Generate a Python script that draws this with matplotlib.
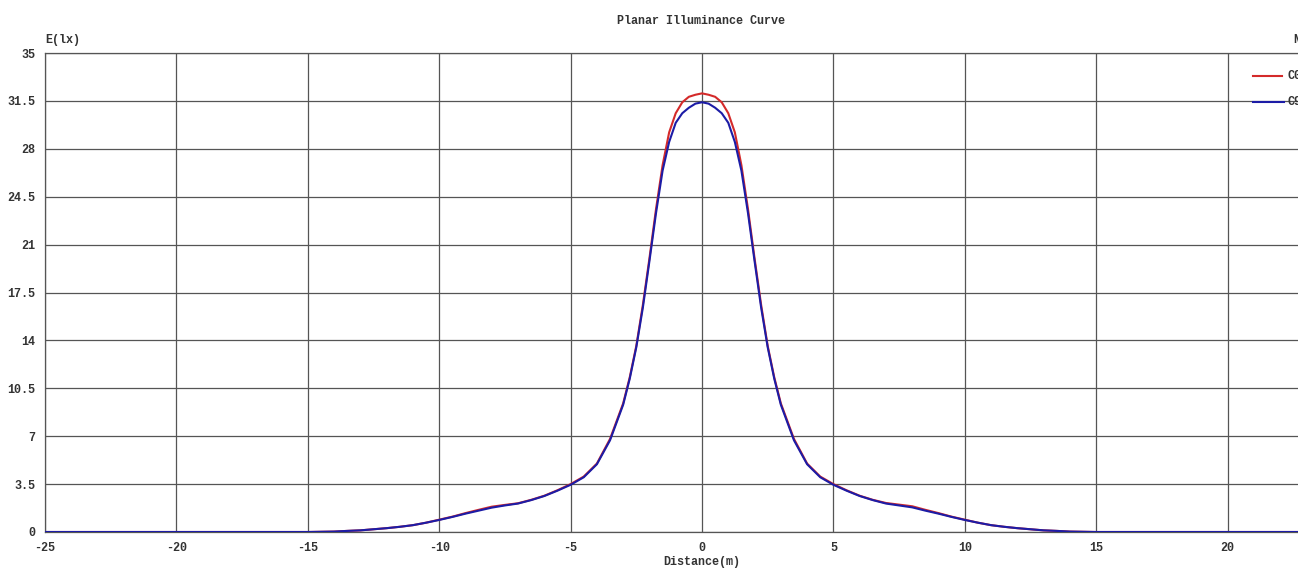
import matplotlib
matplotlib.use("Agg")
import matplotlib.pyplot as plt

plt.rcParams["axes.unicode_minus"] = False

# distances (m) and illuminance values (lx)
distance = [-25, -15, -14, -13.5, -13, -12.5, -12, -11.5, -11, -10.5, -10,
            -9.5, -9, -8.5, -8, -7.5, -7, -6.5, -6, -5.5, -5, -4.5, -4, -3.5,
            -3, -2.75, -2.5, -2.25, -2, -1.75, -1.5, -1.25, -1, -0.75, -0.5,
            -0.25, 0, 0.25, 0.5, 0.75, 1, 1.25, 1.5, 1.75, 2, 2.25, 2.5, 2.75,
            3, 3.5, 4, 4.5, 5, 5.5, 6, 6.5, 7, 7.5, 8, 8.5, 9, 9.5, 10, 10.5,
            11, 11.5, 12, 12.5, 13, 13.5, 14, 15, 25]

e_c0 = [0, 0, 0.03, 0.08, 0.12, 0.2, 0.28, 0.38, 0.5, 0.68, 0.9,
        1.12, 1.38, 1.62, 1.85, 1.98, 2.1, 2.35, 2.65, 3.05, 3.5, 4.05, 5.0, 6.8,
        9.4, 11.3, 13.6, 16.6, 20.0, 23.6, 26.8, 29.2, 30.6, 31.4, 31.8,
        31.95, 32.05, 31.95, 31.8, 31.4, 30.6, 29.2, 26.8, 23.6, 20.0, 16.6, 13.6, 11.3,
        9.4, 6.8, 5.0, 4.05, 3.5, 3.05, 2.65, 2.35, 2.12, 2.0, 1.88, 1.62, 1.38, 1.12, 0.9, 0.68,
        0.5, 0.38, 0.28, 0.2, 0.12, 0.08, 0.03, 0, 0]

e_c90 = [0, 0, 0.03, 0.08, 0.12, 0.2, 0.28, 0.38, 0.5, 0.68, 0.88,
         1.1, 1.34, 1.56, 1.78, 1.94, 2.08, 2.33, 2.63, 3.02, 3.45, 4.0, 4.95, 6.7,
         9.3, 11.2, 13.5, 16.4, 19.8, 23.3, 26.4, 28.5, 29.9, 30.6, 31.0,
         31.3, 31.4, 31.3, 31.0, 30.6, 29.9, 28.5, 26.4, 23.3, 19.8, 16.4, 13.5, 11.2,
         9.3, 6.7, 4.95, 4.0, 3.45, 3.02, 2.63, 2.33, 2.08, 1.94, 1.8, 1.56, 1.34, 1.1, 0.88, 0.68,
         0.5, 0.38, 0.28, 0.2, 0.12, 0.08, 0.03, 0, 0]

x_ticks = [-25, -20, -15, -10, -5, 0, 5, 10, 15, 20]
y_ticks = [0, 3.5, 7, 10.5, 14, 17.5, 21, 24.5, 28, 31.5, 35]
y_labels = ["0", "3.5", "7", "10.5", "14", "17.5", "21", "24.5", "28", "31.5", "35"]

font = {"family": "Liberation Mono", "weight": "bold", "size": 8.5}

fig = plt.figure(figsize=(13.03, 5.78), dpi=100)
# plot area runs past the right edge of the picture, as in the cropped original
ax = fig.add_axes([45 / 1303, 1 - 532 / 578, (1359 - 45) / 1303, (532 - 53) / 578])

ax.plot(distance, e_c0, color="#d42a2a", lw=1.5, zorder=3)
ax.plot(distance, e_c90, color="#1c1ca6", lw=1.5, zorder=4)

ax.set_xlim(-25, 25)
ax.set_ylim(0, 35)
ax.set_xticks(x_ticks)
ax.set_yticks(y_ticks)
ax.set_yticklabels(y_labels)
ax.grid(True, color="#555555", lw=0.9)
ax.set_axisbelow(True)
ax.tick_params(length=0, pad=7, colors="#333333")
for lab in ax.get_xticklabels() + ax.get_yticklabels():
    lab.set_fontfamily(font["family"])
    lab.set_fontweight("bold")
    lab.set_fontsize(font["size"])
for side in ["top", "left", "bottom"]:
    ax.spines[side].set_color("#555555")
    ax.spines[side].set_linewidth(0.9)
ax.spines["right"].set_visible(False)

fig.text(701 / 1303, 1 - 21 / 578, "Planar Illuminance Curve", ha="center", va="center",
         color="#333333", **font)
fig.text(63 / 1303, 1 - 40 / 578, "E(lx)", ha="center", va="center", color="#333333", **font)
fig.text(702 / 1303, 1 - 562 / 578, "Distance(m)", ha="center", va="center", color="#333333", **font)
fig.text(1293 / 1303, 1 - 40 / 578, "N", ha="left", va="center", color="#333333", **font)

# legend entries, cut off at the right edge
fig.add_artist(plt.Line2D([1253 / 1303, 1282 / 1303], [1 - 76 / 578] * 2, color="#d42a2a", lw=1.5))
fig.add_artist(plt.Line2D([1253 / 1303, 1284 / 1303], [1 - 102 / 578] * 2, color="#1c1ca6", lw=1.5))
fig.text(1287 / 1303, 1 - 76 / 578, "C0-C180", ha="left", va="center", color="#333333", **font)
fig.text(1287 / 1303, 1 - 102 / 578, "C90-C270", ha="left", va="center", color="#333333", **font)

# white strip on the right edge where the original screenshot was cropped
fig.add_artist(plt.Rectangle((1298 / 1303, 0), 5 / 1303, 1, transform=fig.transFigure,
                             facecolor="white", edgecolor="none", zorder=10))

fig.savefig("out.png", dpi=100)
